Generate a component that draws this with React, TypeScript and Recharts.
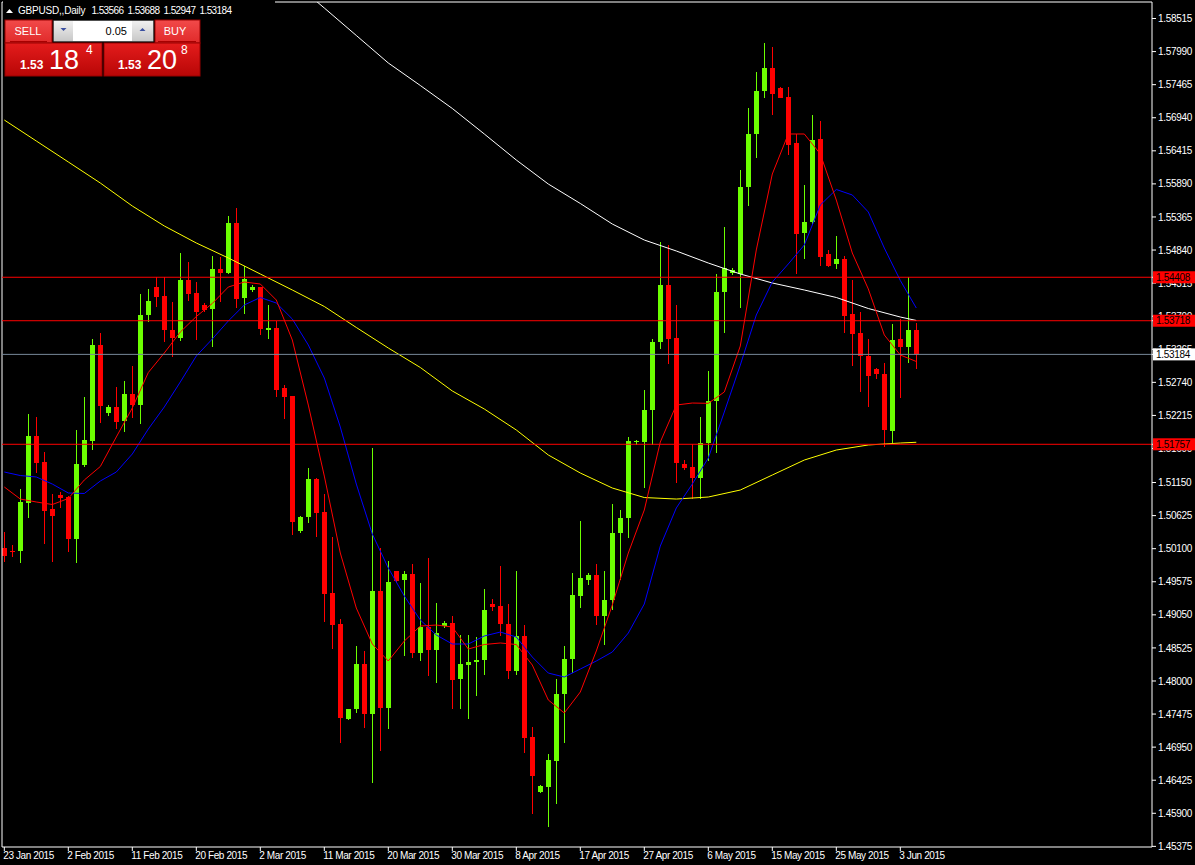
import React from "react";
import { ComposedChart, Bar, Line, XAxis, YAxis, ReferenceLine } from "recharts";

const opens = [1.50115,1.50070,1.50052,1.50830,1.51888,1.51476,1.50725,1.50952,1.50920,1.50258,1.51433,1.51798,1.53328,1.52258,1.52349,1.52115,1.52550,1.52385,1.53798,1.54253,1.54111,1.53571,1.53449,1.54365,1.54158,1.53968,1.53893,1.54539,1.54480,1.55269,1.54068,1.54195,1.54249,1.53576,1.53607,1.52650,1.52523,1.50385,1.50607,1.51206,1.50682,1.49396,1.48904,1.47392,1.47550,1.48269,1.47480,1.49428,1.47576,1.49746,1.49598,1.49698,1.48449,1.48857,1.48496,1.48884,1.48925,1.48020,1.48243,1.48297,1.48338,1.49222,1.49190,1.48904,1.48158,1.48714,1.47111,1.46242,1.46322,1.46735,1.47782,1.48338,1.49354,1.49592,1.49682,1.49036,1.49280,1.50346,1.50582,1.51782,1.51793,1.52296,1.53376,1.54280,1.53439,1.51444,1.51392,1.51222,1.51773,1.52444,1.54174,1.54468,1.54468,1.55841,1.56677,1.57365,1.57730,1.57412,1.57269,1.56539,1.55099,1.55280,1.56603,1.54777,1.54607,1.54693,1.53825,1.53523,1.53158,1.52952,1.52872,1.51972,1.53428,1.53306,1.53566];
const highs = [1.50365,1.50158,1.51047,1.52238,1.52190,1.51630,1.50968,1.51004,1.50930,1.51984,1.52512,1.53423,1.53523,1.52380,1.52671,1.52761,1.53000,1.54142,1.54222,1.54407,1.54412,1.54020,1.54793,1.54650,1.54333,1.53995,1.54746,1.54730,1.55380,1.55507,1.54592,1.54285,1.54260,1.53968,1.53719,1.52698,1.52530,1.50623,1.51385,1.51215,1.50968,1.50290,1.48984,1.47560,1.48555,1.48476,1.51698,1.50106,1.49904,1.49750,1.49746,1.49857,1.49555,1.49957,1.49238,1.48947,1.49031,1.48730,1.48730,1.48703,1.49460,1.49301,1.49830,1.49222,1.49746,1.48888,1.47269,1.46349,1.46841,1.48031,1.48555,1.49714,1.50539,1.49714,1.49857,1.49746,1.50809,1.50714,1.51877,1.51825,1.52619,1.53428,1.54963,1.54920,1.53968,1.51507,1.51761,1.52190,1.52925,1.54460,1.55206,1.54555,1.56111,1.57090,1.57666,1.58122,1.58058,1.57430,1.57428,1.56682,1.55872,1.56979,1.56888,1.54841,1.55063,1.54750,1.54365,1.53857,1.53428,1.52963,1.53047,1.53666,1.53741,1.54407,1.53688];
const lows = [1.49888,1.49968,1.49877,1.50592,1.51296,1.50179,1.49893,1.50750,1.50052,1.49877,1.51392,1.51666,1.52100,1.52211,1.52000,1.51957,1.52179,1.52084,1.53703,1.53941,1.53385,1.53147,1.53401,1.54036,1.53412,1.53861,1.53306,1.54011,1.54460,1.53925,1.53830,1.54179,1.53496,1.53433,1.52512,1.52153,1.50317,1.50344,1.50512,1.50290,1.48941,1.48507,1.47011,1.47385,1.47496,1.47258,1.46376,1.46893,1.47242,1.49550,1.48401,1.48369,1.48322,1.48084,1.47972,1.48836,1.47550,1.47560,1.47396,1.47761,1.48095,1.49111,1.48719,1.48031,1.48095,1.46861,1.45888,1.46222,1.45687,1.46047,1.47020,1.48126,1.49163,1.49528,1.48888,1.48571,1.49126,1.49603,1.50265,1.51746,1.51058,1.51746,1.53269,1.53031,1.51142,1.51349,1.50884,1.50893,1.51496,1.51623,1.53528,1.54444,1.53925,1.55544,1.56306,1.57258,1.56988,1.57250,1.56349,1.54455,1.54698,1.55233,1.54592,1.54576,1.54539,1.53528,1.53004,1.52592,1.52353,1.52788,1.51709,1.51773,1.52496,1.53042,1.52947];
const closes = [1.49988,1.50060,1.50836,1.51888,1.51465,1.50703,1.50607,1.50909,1.50258,1.51444,1.51825,1.53328,1.52353,1.52349,1.52115,1.52550,1.52380,1.53809,1.54026,1.54095,1.53571,1.53449,1.54365,1.54147,1.53861,1.53893,1.54534,1.54480,1.55269,1.54063,1.54376,1.54249,1.53576,1.53607,1.52619,1.52512,1.50528,1.50603,1.51206,1.50671,1.49385,1.48893,1.47417,1.47555,1.48269,1.47480,1.49428,1.47576,1.49571,1.49587,1.49698,1.48449,1.48857,1.48496,1.48761,1.48925,1.48020,1.48265,1.48297,1.48333,1.49126,1.49179,1.48909,1.48158,1.48714,1.47100,1.46492,1.46333,1.46746,1.47793,1.48344,1.49360,1.49634,1.49677,1.49036,1.49285,1.50346,1.50582,1.51804,1.51804,1.52296,1.53376,1.54280,1.53428,1.51460,1.51380,1.51222,1.51773,1.52444,1.54174,1.54555,1.54523,1.55841,1.56677,1.57365,1.57730,1.57322,1.57258,1.56507,1.55099,1.55280,1.56587,1.54734,1.54592,1.54693,1.53793,1.53512,1.53163,1.52845,1.52872,1.51988,1.53412,1.53306,1.53571,1.53184];

// fast MAs sampled every 2 bars (bar 0, 2, 4, ... 114)
const redMA = [1.51079,1.50888,1.50841,1.50801,1.50896,1.51190,1.51404,1.51873,1.52333,1.52896,1.53206,1.53539,1.53785,1.53992,1.54253,1.54333,1.54301,1.54047,1.53412,1.52380,1.51253,1.50031,1.49158,1.48587,1.48317,1.48634,1.48872,1.48888,1.48857,1.48507,1.48579,1.48603,1.48579,1.48253,1.47698,1.47492,1.47825,1.48476,1.49206,1.50031,1.50714,1.51793,1.52380,1.52412,1.52407,1.52587,1.53317,1.54841,1.56047,1.56682,1.56682,1.56365,1.55634,1.54793,1.54222,1.53492,1.53174,1.53071];
const blueMA = [1.51317,1.51261,1.51238,1.51126,1.50984,1.50976,1.51174,1.51317,1.51603,1.51999,1.52349,1.52746,1.53158,1.53428,1.53714,1.53968,1.54087,1.53999,1.53746,1.53333,1.52809,1.52031,1.51126,1.50333,1.49793,1.49349,1.48968,1.48730,1.48587,1.48587,1.48714,1.48777,1.48698,1.48380,1.48126,1.48063,1.48190,1.48317,1.48460,1.48761,1.49222,1.50142,1.50746,1.51126,1.51539,1.52269,1.53015,1.53809,1.54333,1.54619,1.54920,1.55555,1.55801,1.55714,1.55444,1.54872,1.54357,1.53920];
// slow MAs
const yellowIdx = [0,4,8,12,16,20,24,28,32,36,40,44,48,52,56,60,64,68,72,76,80,84,88,92,96,100,104,108,112,114];
const yellowMA = [1.56904,1.56571,1.56238,1.55904,1.55539,1.55222,1.54952,1.54714,1.54460,1.54206,1.53944,1.53611,1.53285,1.52976,1.52603,1.52317,1.51984,1.51587,1.51301,1.51063,1.50912,1.50888,1.50920,1.51031,1.51269,1.51507,1.51666,1.51746,1.51777,1.51789];
const whiteIdx = [36,40,44,48,52,56,60,64,68,72,76,80,84,88,92,96,100,104,108,112,114];
const whiteMA = [1.59111,1.58682,1.58246,1.57809,1.57452,1.57087,1.56682,1.56269,1.55888,1.55579,1.55253,1.54999,1.54825,1.54634,1.54460,1.54317,1.54206,1.54087,1.53912,1.53777,1.53722];

const dateTickIdx = [0,8,16,24,32,40,48,56,64,72,80,88,96,104,112];
const dateLabels = ["23 Jan 2015","2 Feb 2015","11 Feb 2015","20 Feb 2015","2 Mar 2015","11 Mar 2015","20 Mar 2015","30 Mar 2015","8 Apr 2015","17 Apr 2015","27 Apr 2015","6 May 2015","15 May 2015","25 May 2015","3 Jun 2015"];
const priceTicks = [1.58515,1.57990,1.57465,1.56940,1.56415,1.55890,1.55365,1.54840,1.54315,1.53790,1.53265,1.52740,1.52215,1.51690,1.51150,1.50625,1.50100,1.49575,1.49050,1.48525,1.48000,1.47475,1.46950,1.46425,1.45900,1.45375];

const levelLines = [1.54408, 1.53718, 1.51757];
const bidPrice = 1.53184;
const headerValues = ["1.53566", "1.53688", "1.52947", "1.53184"];

const Y_MIN = 1.45365;
const Y_MAX = 1.58777;
const X_MIN = -0.2875;
const X_MAX = 143.4625;

const GREEN = "#6cff00";
const RED = "#ff0000";
const FONT = "Liberation Sans, Arial, sans-serif";

const data = opens.map((o, i) => {
  const yk = yellowIdx.indexOf(i);
  const wk = whiteIdx.indexOf(i);
  return {
    i,
    open: o,
    high: highs[i],
    low: lows[i],
    close: closes[i],
    range: [lows[i], highs[i]],
    red: i % 2 === 0 ? redMA[i / 2] : null,
    blue: i % 2 === 0 ? blueMA[i / 2] : null,
    yellow: yk >= 0 ? yellowMA[yk] : null,
    white: wk >= 0 ? whiteMA[wk] : null,
  };
});

// tags are drawn as the last ticks so they cover the regular labels
const axisTicks = [...priceTicks, ...levelLines, bidPrice];

function Candle(props: any) {
  const { x, y, width, height, payload } = props;
  if (!payload || x == null || y == null) return null;
  const { open, close, high, low } = payload;
  const top = Math.min(y, y + height);
  const h = Math.abs(height);
  const k = high > low ? h / (high - low) : 0;
  const yO = top + (high - open) * k;
  const yC = top + (high - close) * k;
  const color = close >= open ? GREEN : RED;
  const cx = Math.round(x + width / 2) + 0.5;
  const bTop = Math.round(Math.min(yO, yC));
  const bH = Math.max(1, Math.round(Math.abs(yO - yC)));
  return (
    <g>
      <line x1={cx} x2={cx} y1={Math.round(top)} y2={Math.round(top + h)} stroke={color} strokeWidth={1} shapeRendering="crispEdges" />
      <rect x={cx - 2.5} y={bTop} width={5} height={bH} fill={color} shapeRendering="crispEdges" />
    </g>
  );
}

function DateTick(props: any) {
  const { x, y, payload } = props;
  const k = dateTickIdx.indexOf(payload.value);
  return (
    <text x={x - 1} y={y - 1} dy="0.71em" fill="#ffffff" fontSize={10} fontFamily={FONT} letterSpacing={-0.4} textAnchor="start">
      {k >= 0 ? dateLabels[k] : ""}
    </text>
  );
}

function PriceTick(props: any) {
  const { x, y, payload } = props;
  const v = Number(payload.value);
  const isLevel = levelLines.indexOf(v) >= 0;
  const isBid = v === bidPrice;
  if (isLevel || isBid) {
    return (
      <g>
        <rect x={x - 5} y={y - 6} width={42} height={12} fill={isBid ? "#ffffff" : "#ff0000"} />
        <text x={x - 2} y={y} dy="0.36em" fill="#000000" fontSize={10} fontFamily={FONT} letterSpacing={-0.3} textAnchor="start">
          {v.toFixed(5)}
        </text>
      </g>
    );
  }
  return (
    <text x={x} y={y} dy="0.36em" fill="#ffffff" fontSize={10} fontFamily={FONT} letterSpacing={-0.3} textAnchor="start">
      {v.toFixed(5)}
    </text>
  );
}

function TradePanel() {
  const big = { fill: "#ffffff", fontFamily: FONT } as any;
  const hx = [91.5, 127.5, 163.5, 199.5];
  return (
    <svg width={320} height={80} style={{ position: "absolute", left: 0, top: 0, pointerEvents: "none" }}>
      <defs>
        <linearGradient id="btn" x1="0" y1="0" x2="0" y2="1">
          <stop offset="0" stopColor="#e41c1c" />
          <stop offset="1" stopColor="#b80606" />
        </linearGradient>
        <linearGradient id="tab" x1="0" y1="0" x2="0" y2="1">
          <stop offset="0" stopColor="#f24a4a" />
          <stop offset="1" stopColor="#e02a2a" />
        </linearGradient>
        <linearGradient id="spin" x1="0" y1="0" x2="0" y2="1">
          <stop offset="0" stopColor="#f0f0f0" />
          <stop offset="1" stopColor="#c8c8c8" />
        </linearGradient>
      </defs>
      <rect x={3} y={0} width={272} height={17} fill="#000000" />
      <polygon points="6,13 9.5,9 13,13" fill="#ffffff" />
      <text x={18} y={14} fill="#ffffff" fontSize={10} fontFamily={FONT} letterSpacing={-0.2}>GBPUSD,,Daily</text>
      {headerValues.map((t, k) => (
        <text key={k} x={hx[k]} y={14} fill="#ffffff" fontSize={10} fontFamily={FONT} letterSpacing={-0.6}>{t}</text>
      ))}

      {/* SELL block */}
      <rect x={5} y={20} width={47} height={23} fill="url(#tab)" stroke="#9a0000" strokeWidth={1} />
      <line x1={10} x2={47} y1={41.5} y2={41.5} stroke="#a80000" />
      <text x={28} y={35} textAnchor="middle" fill="#ffffff" fontSize={11} fontFamily={FONT}>SELL</text>
      <rect x={5} y={43} width={97} height={33} fill="url(#btn)" stroke="#9a0000" strokeWidth={1} />
      <text x={20} y={69} style={big} fontSize={12} fontWeight="bold">1.53</text>
      <text x={49} y={69} style={big} fontSize={27}>18</text>
      <text x={86} y={54} style={big} fontSize={12}>4</text>

      {/* spinner */}
      <rect x={53.5} y={20.5} width={100} height={21} fill="#a0a0a0" />
      <rect x={54} y={21} width={19} height={20} fill="url(#spin)" />
      <polygon points="60.5,28 66.5,28 63.5,31" fill="#3a4fa0" />
      <rect x={73} y={21} width={59} height={20} fill="#ffffff" />
      <text x={127} y={35} textAnchor="end" fill="#000000" fontSize={11} fontFamily={FONT}>0.05</text>
      <rect x={132} y={21} width={21} height={20} fill="url(#spin)" />
      <polygon points="139.5,31 145.5,31 142.5,28" fill="#3a4fa0" />

      {/* BUY block */}
      <rect x={155} y={20} width={45} height={23} fill="url(#tab)" stroke="#9a0000" strokeWidth={1} />
      <line x1={158} x2={196} y1={41.5} y2={41.5} stroke="#a80000" />
      <text x={175} y={35} textAnchor="middle" fill="#ffffff" fontSize={11} fontFamily={FONT}>BUY</text>
      <rect x={104} y={43} width={96} height={33} fill="url(#btn)" stroke="#9a0000" strokeWidth={1} />
      <text x={118} y={69} style={big} fontSize={12} fontWeight="bold">1.53</text>
      <text x={147} y={69} style={big} fontSize={27}>20</text>
      <text x={181} y={54} style={big} fontSize={12}>8</text>
    </svg>
  );
}

export default function App() {
  return (
    <div style={{ position: "fixed", left: 0, top: 0, width: 1195, height: 865, background: "#000000", overflow: "hidden" }}>
      <ComposedChart width={1195} height={865} data={data} margin={{ top: 2, right: 0, left: 2, bottom: 0 }}>
        <XAxis
          dataKey="i"
          type="number"
          domain={[X_MIN, X_MAX]}
          allowDataOverflow
          ticks={dateTickIdx}
          interval={0}
          height={18}
          tickSize={4}
          tickMargin={2}
          axisLine={{ stroke: "#ffffff" }}
          tickLine={{ stroke: "#ffffff" }}
          tick={<DateTick />}
        />
        <YAxis
          orientation="right"
          type="number"
          domain={[Y_MIN, Y_MAX]}
          allowDataOverflow
          ticks={axisTicks}
          interval={0}
          width={43}
          tickSize={4}
          tickMargin={2}
          axisLine={{ stroke: "#ffffff" }}
          tickLine={{ stroke: "#ffffff" }}
          tick={<PriceTick />}
        />
        <ReferenceLine y={Y_MAX} stroke="#ffffff" />
        <ReferenceLine x={X_MIN} stroke="#ffffff" />
        <Line dataKey="white" type="linear" stroke="#ffffff" strokeWidth={1} dot={false} connectNulls isAnimationActive={false} />
        <Line dataKey="yellow" type="linear" stroke="#ffff00" strokeWidth={1} dot={false} connectNulls isAnimationActive={false} />
        <Line dataKey="blue" type="linear" stroke="#0000ff" strokeWidth={1} dot={false} connectNulls isAnimationActive={false} />
        <Line dataKey="red" type="linear" stroke="#ff0000" strokeWidth={1} dot={false} connectNulls isAnimationActive={false} />
        <ReferenceLine y={levelLines[0]} stroke="#ff0000" />
        <ReferenceLine y={levelLines[1]} stroke="#ff0000" />
        <ReferenceLine y={levelLines[2]} stroke="#ff0000" />
        <ReferenceLine y={bidPrice} stroke="#778899" />
        <Bar dataKey="range" barSize={5} shape={<Candle />} isAnimationActive={false} />
      </ComposedChart>
      <TradePanel />
    </div>
  );
}
